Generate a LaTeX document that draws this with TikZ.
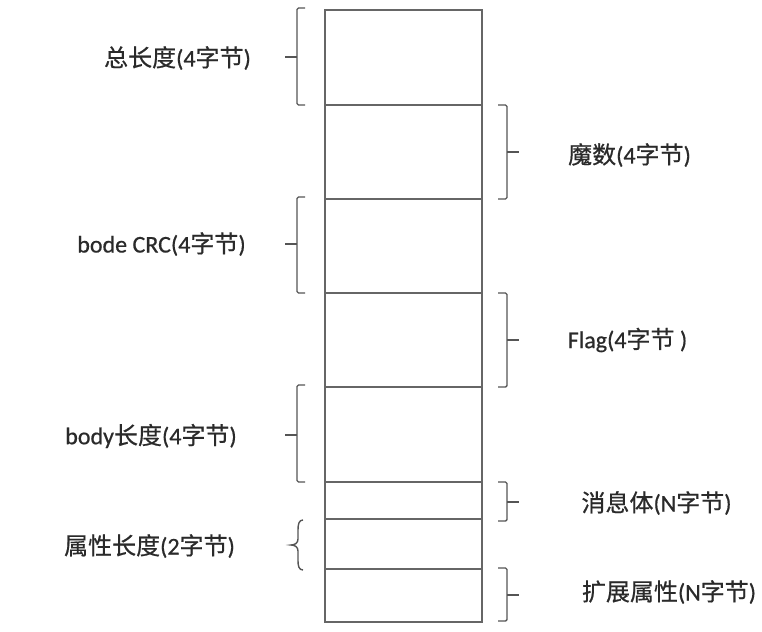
\documentclass[tikz,border=0pt]{standalone}
\usepackage{fontspec}
\setmainfont[FakeBold=0.6]{Carlito}
\newfontfamily\cjk[FakeBold=0.6]{Noto Sans CJK SC}
\begin{document}
\begin{tikzpicture}[x=1pt,y=-1pt,
  cell/.style={draw=linegray,line width=1.2pt,inner sep=0pt,minimum width=157pt},
  brk/.style={draw=brkgray,line width=1.4pt,rounded corners=1.5pt},
  lbl/.style={text=txtgray,inner sep=0pt,font=\fontsize{24}{28}\selectfont}]
\definecolor{linegray}{HTML}{666666}
\definecolor{brkgray}{HTML}{555555}
\definecolor{txtgray}{HTML}{2a2a2a}
\useasboundingbox (0,0) rectangle (762,631);
\fill[white] (0,0) rectangle (762,631);
% cells
\node[cell,minimum height=95pt] (r1) at (403.5,57.5) {};
\node[cell,minimum height=94pt] (r2) at (403.5,152) {};
\node[cell,minimum height=94pt] (r3) at (403.5,246) {};
\node[cell,minimum height=94pt] (r4) at (403.5,340) {};
\node[cell,minimum height=95pt] (r5) at (403.5,434.5) {};
\node[cell,minimum height=37pt] (r6) at (403.5,500.5) {};
\node[cell,minimum height=50pt] (r7) at (403.5,544) {};
\node[cell,minimum height=53pt] (r8) at (403.5,595.5) {};
% left brackets
\draw[brk] (305,8) -- (297,8) -- (297,105) -- (305,105);
\draw[brk] (297,57) -- (285,57);
\draw[brk] (305,197) -- (297,197) -- (297,293) -- (305,293);
\draw[brk] (297,244) -- (285,244);
\draw[brk] (305,385) -- (297,385) -- (297,482) -- (305,482);
\draw[brk] (297,435) -- (285,435);
% curly brace
\draw[draw=brkgray,line width=1.4pt] (303,520) .. controls (299,520) and (298,524) .. (298,530) -- (298,539) .. controls (298,543) and (295,545) .. (291,545) .. controls (295,545) and (298,547) .. (298,551) -- (298,561) .. controls (298,566) and (299,570) .. (303,570);
% right brackets
\draw[brk] (498,105) -- (507,105) -- (507,199) -- (498,199);
\draw[brk] (507,152) -- (519,152);
\draw[brk] (498,293) -- (507,293) -- (507,387) -- (498,387);
\draw[brk] (507,340) -- (519,340);
\draw[brk] (498,482) -- (507,482) -- (507,521) -- (498,521);
\draw[brk] (507,502) -- (519,502);
\draw[brk] (498,568) -- (507,568) -- (507,621) -- (498,621);
\draw[brk] (507,595) -- (519,595);
% labels
\node[lbl] (l1) at (177.5,58) {{\cjk 总长度}(4{\cjk 字节})};
\node[lbl] (l2) at (629.5,155) {{\cjk 魔数}(4{\cjk 字节})};
\node[lbl] (l3) at (161.5,244) {bode CRC(4{\cjk 字节})};
\node[lbl] (l4) at (627.5,340) {Flag(4{\cjk 字节} )};
\node[lbl] (l5) at (151,436) {body{\cjk 长度}(4{\cjk 字节})};
\node[lbl] (l6) at (656.5,503) {{\cjk 消息体}(N{\cjk 字节})};
\node[lbl] (l7) at (149.5,546) {{\cjk 属性长度}(2{\cjk 字节})};
\node[lbl] (l8) at (669,592) {{\cjk 扩展属性}(N{\cjk 字节})};
\end{tikzpicture}
\end{document}
